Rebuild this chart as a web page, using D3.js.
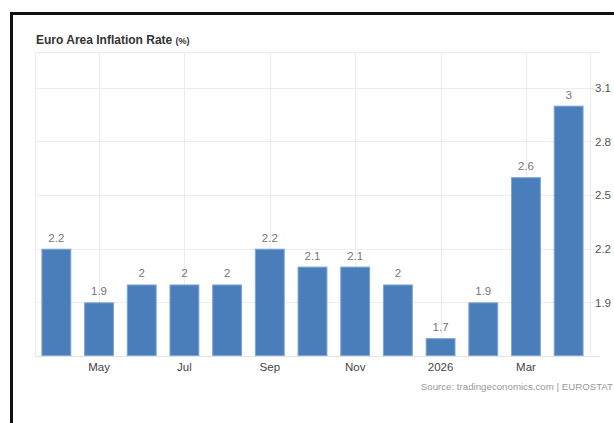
<!DOCTYPE html>
<html>
<head>
<meta charset="utf-8">
<script src="https://cdn.jsdelivr.net/npm/d3@7"></script>
<style>
  html, body { margin: 0; padding: 0; background: #fff; }
  svg { display: block; }
  text { font-family: "Liberation Sans", Arial, Helvetica, sans-serif; }
</style>
</head>
<body>
<svg id="chart" width="614" height="423"></svg>
<script>
// Euro area annual inflation, monthly
const months = ["Apr", "May", "Jun", "Jul", "Aug", "Sep", "Oct", "Nov", "Dec", "2026", "Feb", "Mar", "Apr26"];
const inflation = [2.2, 1.9, 2, 2, 2, 2.2, 2.1, 2.1, 2, 1.7, 1.9, 2.6, 3];
const labeledMonths = ["May", "Jul", "Sep", "Nov", "2026", "Mar"];
const yTicks = [1.9, 2.2, 2.5, 2.8, 3.1];
const yDomain = [1.6, 3.3];

const svg = d3.select("#chart");
const W = 614, H = 423;
const plot = { left: 35, right: 590, top: 52, bottom: 356 };

// Frame around the widget
svg.append("path")
  .attr("d", `M11.5,${H} V13.5 H${W}`)
  .attr("fill", "none")
  .attr("stroke", "#111")
  .attr("stroke-width", 3);

// Title
const title = svg.append("text")
  .attr("x", 36).attr("y", 44)
  .attr("fill", "#333")
  .attr("font-size", 12)
  .attr("font-weight", "bold");
title.append("tspan").text("Euro Area Inflation Rate ");
title.append("tspan").attr("font-size", 9).attr("font-weight", "bold").text("(%)");

const x = d3.scaleBand()
  .domain(months)
  .range([plot.left, plot.right])
  .paddingInner(0.3)
  .paddingOuter(0.15);

const y = d3.scaleLinear().domain(yDomain).range([plot.bottom, plot.top]);

const grid = svg.append("g").attr("stroke", "#ececec").attr("stroke-width", 1);

// Horizontal grid lines (plus top edge)
grid.selectAll("line.h")
  .data(yTicks.concat([yDomain[1]]))
  .join("line")
  .attr("x1", plot.left).attr("x2", 600)
  .attr("y1", d => Math.round(y(d)) + 0.5)
  .attr("y2", d => Math.round(y(d)) + 0.5);

// Vertical grid lines at labelled months and plot edges
const vx = [plot.left, ...labeledMonths.map(m => x(m) + x.bandwidth() / 2), plot.right];
grid.selectAll("line.v")
  .data(vx)
  .join("line")
  .attr("x1", d => Math.round(d) + 0.5).attr("x2", d => Math.round(d) + 0.5)
  .attr("y1", plot.top).attr("y2", plot.bottom);

// Bars
svg.append("g").selectAll("rect")
  .data(inflation)
  .join("rect")
  .attr("x", (d, i) => x(months[i]) + 0.5)
  .attr("y", d => y(d) + 0.5)
  .attr("width", x.bandwidth() - 1)
  .attr("height", d => y(yDomain[0]) - y(d) - 1)
  .attr("fill", "#4a7ebb")
  .attr("stroke", "#7ea5d6")
  .attr("stroke-width", 1);

// Baseline
svg.append("line")
  .attr("x1", plot.left).attr("x2", 600)
  .attr("y1", plot.bottom + 0.5).attr("y2", plot.bottom + 0.5)
  .attr("stroke", "#e2e2e2");

// Value labels
svg.append("g").selectAll("text")
  .data(inflation)
  .join("text")
  .attr("x", (d, i) => x(months[i]) + x.bandwidth() / 2)
  .attr("y", d => y(d) - 7)
  .attr("text-anchor", "middle")
  .attr("font-size", 11.5)
  .attr("fill", "#777")
  .text(d => d);

// X axis labels
const xAxis = d3.axisBottom(x)
  .tickValues(labeledMonths)
  .tickSize(0)
  .tickPadding(7);
const gx = svg.append("g")
  .attr("transform", `translate(0,${plot.bottom})`)
  .call(xAxis);
gx.select(".domain").remove();
gx.selectAll("text")
  .attr("font-size", 11.5)
  .attr("fill", "#444")
  .attr("font-family", "Liberation Sans, Arial, sans-serif");

// Y axis labels on the right
const yAxis = d3.axisRight(y)
  .tickValues(yTicks)
  .tickSize(0)
  .tickPadding(5);
const gy = svg.append("g")
  .attr("transform", `translate(${plot.right},0)`)
  .call(yAxis);
gy.select(".domain").remove();
gy.selectAll("text")
  .attr("font-size", 11.5)
  .attr("fill", "#555")
  .attr("font-family", "Liberation Sans, Arial, sans-serif");

// Source note
svg.append("text")
  .attr("x", 613).attr("y", 390)
  .attr("text-anchor", "end")
  .attr("font-size", 9.7)
  .attr("fill", "#999")
  .text("Source: tradingeconomics.com | EUROSTAT");
</script>
</body>
</html>
